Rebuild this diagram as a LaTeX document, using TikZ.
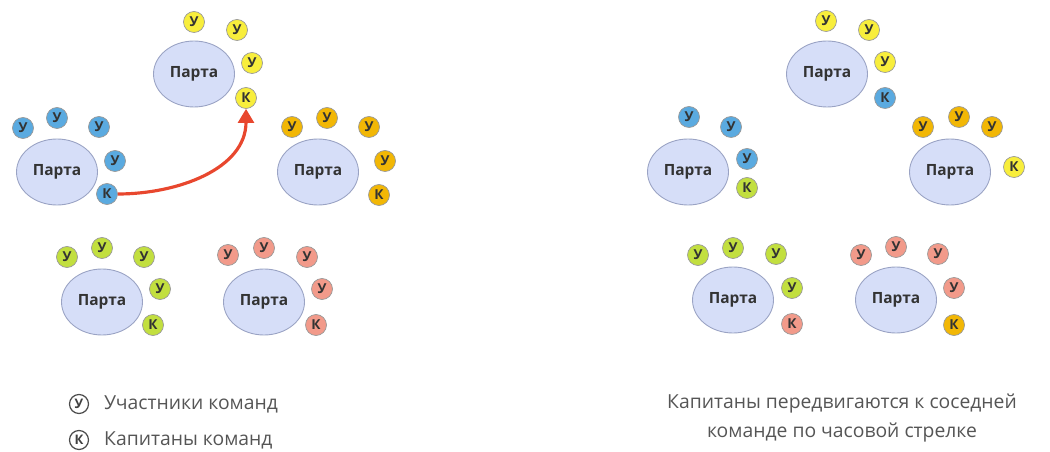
\documentclass[tikz,border=0pt]{standalone}
\usepackage{fontspec}
\setmainfont{Open Sans}
\usetikzlibrary{shapes.geometric,arrows.meta}

\definecolor{deskfill}{HTML}{D6DEF8}
\definecolor{deskline}{HTML}{9AA3C4}
\definecolor{cblue}{HTML}{5AAAE0}
\definecolor{cyell}{HTML}{F8EE3C}
\definecolor{corng}{HTML}{F2B705}
\definecolor{cgrn}{HTML}{C2DF3F}
\definecolor{cpink}{HTML}{F29A8A}
\definecolor{carrow}{HTML}{E8472E}
\definecolor{txtgray}{HTML}{555555}

\tikzset{
  desk/.style={ellipse,draw=deskline,fill=deskfill,line width=0.5pt,
    minimum width=1.62cm,minimum height=1.32cm,inner sep=0pt,
    font=\bfseries\fontsize{8.8}{8.8}\selectfont,text=black!80},
  member/.style={circle,draw=black!40,line width=0.4pt,fill=#1,
    minimum size=0.42cm,inner sep=0pt,
    font=\bfseries\fontsize{7.8}{7.8}\selectfont,text=black!80},
  legend/.style={circle,draw=black!70,line width=0.7pt,
    minimum size=0.38cm,inner sep=0pt,font=\bfseries\fontsize{7.5}{7.5}\selectfont,text=black!75},
  note/.style={font=\fontsize{11}{16.5}\selectfont,text=txtgray},
}

\begin{document}
\begin{tikzpicture}[x=0.02cm,y=-0.02cm]
  \useasboundingbox (0,0) rectangle (1050,452);

  % before: desks
  \foreach \d [count=\i from 1] in {(194,74),(57,172),(318,172),(102,302),(264,302)}
    {\node[desk] (p\i) at \d {Парта};}
  % after: desks
  \foreach \d [count=\i from 1] in {(827,74),(688,172),(950,172),(733,300),(896,300)}
    {\node[desk] (q\i) at \d {Парта};}

  % members (У), one list per team
  \foreach \pts/\col/\nm in {
      {(194,22),(237,30),(252,63)}/cyell/ya,
      {(23,128),(57,118),(99,127),(115,161)}/cblue/ba,
      {(292,127),(327,118),(369,127),(385,161)}/corng/oa,
      {(67,257),(102,248),(144,257),(160,289)}/cgrn/ga,
      {(228,255),(264,248),(307,257),(322,289)}/cpink/ra,
      {(826,21),(869,30),(885,62)}/cyell/yb,
      {(689,117),(731,127),(747,159)}/cblue/bb,
      {(923,127),(959,117),(992,127)}/corng/ob,
      {(698,255),(733,248),(776,254),(792,288)}/cgrn/gb,
      {(861,255),(896,247),(938,254),(954,288)}/cpink/rb}
    {\foreach \u [count=\i from 1] in \pts {\node[member=\col] (\nm\i) at \u {У};}}

  % captains (К)
  \node[member=cyell] (kT) at (246,98) {К};
  \node[member=cblue] (kL) at (107,194) {К};
  \node[member=corng] (kR) at (379,195) {К};
  \node[member=cgrn] (kBL) at (153,325) {К};
  \node[member=cpink] (kBR) at (316,325) {К};
  \node[member=cblue] (mT) at (885,98) {К};
  \node[member=cgrn] (mL) at (747,188) {К};
  \node[member=cyell] (mR) at (1014,167) {К};
  \node[member=cpink] (mBL) at (792,324) {К};
  \node[member=corng] (mBR) at (954,325) {К};

  \draw[carrow,line width=1.8pt,-{Triangle[length=8pt,width=9pt]}]
    (kL.east) to[out=0,in=-90] (kT.south);

  % legend
  \node[legend] (lu) at (79,404) {У};
  \node[legend] (lk) at (79,440) {К};
  \node[note,anchor=west] (tu) at (98,404) {Участники команд};
  \node[note,anchor=west] (tk) at (98,440) {Капитаны команд};

  \node[note,align=center] (cap) at (842,418)
    {Капитаны передвигаются к соседней\\команде по часовой стрелке};
\end{tikzpicture}
\end{document}
